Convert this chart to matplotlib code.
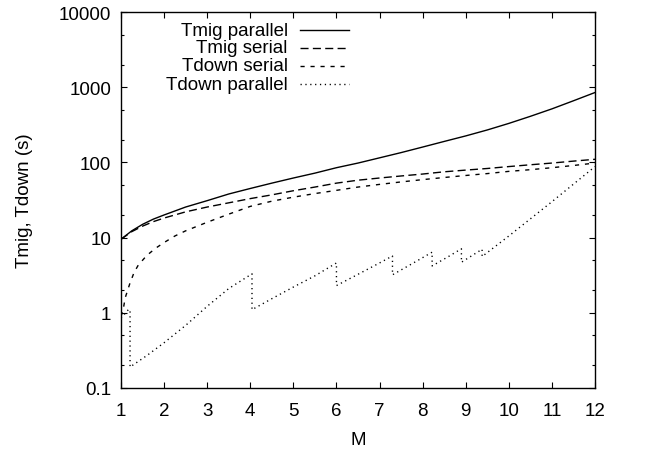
import matplotlib
matplotlib.use("Agg")
import matplotlib.pyplot as plt
from matplotlib.ticker import FixedLocator, FixedFormatter, LogLocator, NullFormatter
from matplotlib.lines import Line2D

plt.rcParams['font.family'] = ['Liberation Sans', 'DejaVu Sans']

# Migration time, parallel
tmig_par_m = [1, 1.25, 1.5, 1.75, 2, 2.5, 3, 3.5, 4, 4.5, 5, 5.5, 6, 6.5, 7, 7.5,
              8, 8.5, 9, 9.5, 10, 10.5, 11, 11.5, 12]
tmig_par = [9.5, 12.3, 15, 17.6, 20, 25.5, 31, 38, 45, 53, 62, 72, 85, 98, 115, 135,
            160, 190, 225, 270, 330, 410, 515, 660, 850]

# Migration time, serial
tmig_ser_m = [1, 1.25, 1.5, 1.75, 2, 2.5, 3, 3.5, 4, 4.5, 5, 5.5, 6, 6.5, 7, 7.5,
              8, 8.5, 9, 9.5, 10, 10.5, 11, 11.5, 12]
tmig_ser = [9.5, 12, 14.2, 16.3, 18.2, 22, 25.5, 29, 33, 37, 42, 47, 53, 58, 62, 66,
            70, 75, 79, 83, 88, 93, 98, 104, 110]

# Downtime, serial
tdown_ser_m = [1, 1.05, 1.1, 1.2, 1.3, 1.4, 1.6, 1.8, 2, 2.25, 2.5, 3, 3.5, 4, 4.5,
               5, 5.5, 6, 6.5, 7, 7.5, 8, 8.5, 9, 9.5, 10, 10.5, 11, 11.5, 12]
tdown_ser = [0.9, 1.1, 1.6, 2.4, 3.4, 4.3, 5.8, 7.2, 8.6, 10.5, 12.3, 16, 20.5, 26, 30.5,
             34.5, 38.5, 42.5, 47, 51, 55, 59, 63, 67, 71, 76, 80, 85, 91, 98]

# Downtime, parallel (repeated M values are the drops)
tdown_par_m = [1.0, 1.17, 1.21, 1.21, 1.6, 2.0, 2.5, 3.0, 3.5, 4.04, 4.04, 4.5, 5.0, 5.5,
               6.0, 6.0, 6.5, 7.0, 7.3, 7.3, 7.8, 8.22, 8.22, 8.6, 8.9, 8.9, 9.38, 9.38,
               10, 11, 12]
tdown_par = [0.85, 1.1, 1.1, 0.19, 0.27, 0.40, 0.68, 1.22, 2.1, 3.3, 1.1, 1.54, 2.2, 3.1,
             4.6, 2.3, 3.25, 4.6, 5.7, 3.2, 4.65, 6.4, 4.2, 5.6, 7.1, 4.7, 7.0, 5.6,
             10.5, 30, 88]

series_labels = ["Tmig parallel", "Tmig serial", "Tdown serial", "Tdown parallel"]
y_ticks = [0.1, 1, 10, 100, 1000, 10000]
y_tick_labels = ["0.1", "1", "10", "100", "1000", "10000"]
x_ticks = list(range(1, 13))

fig = plt.figure(figsize=(6.65, 4.6), dpi=100)
ax = fig.add_axes([121 / 665, 1 - 389 / 460, 474 / 665, 376 / 460])

lw = 1.0
styles = [
    dict(linestyle='-'),
    dict(linestyle=(0, (5.8, 3.1))),
    dict(linestyle=(0, (3.0, 4.2))),
    dict(linestyle=(0, (0.9, 2.6))),
]
data = [(tmig_par_m, tmig_par), (tmig_ser_m, tmig_ser),
        (tdown_ser_m, tdown_ser), (tdown_par_m, tdown_par)]

for (mx, my), st in zip(data, styles):
    ax.plot(mx, my, color='black', lw=lw, **st)

ax.set_yscale('log')
ax.set_xlim(1, 12)
ax.set_ylim(0.1, 10000)
ax.yaxis.set_major_locator(FixedLocator(y_ticks))
ax.yaxis.set_major_formatter(FixedFormatter(y_tick_labels))
ax.yaxis.set_minor_locator(LogLocator(base=10, subs=[2, 5]))
ax.yaxis.set_minor_formatter(NullFormatter())
ax.set_xticks(x_ticks)
ax.set_xticklabels([str(v) for v in x_ticks])

fs = 13.5
ax.tick_params(which='both', direction='in', top=True, right=True, labelsize=fs,
               width=0.8, color='black')
ax.tick_params(which='major', length=4.5)
ax.tick_params(axis='x', which='major', pad=10)
ax.tick_params(axis='y', which='major', pad=7)
ax.tick_params(which='minor', length=2.3)
for s in ax.spines.values():
    s.set_linewidth(1.0)

ax.set_xlabel("M", fontsize=fs, labelpad=9)
ax.set_ylabel("Tmig, Tdown (s)", fontsize=fs, labelpad=19)

# Key: right-aligned labels with line samples to their right
row_y = [0.952, 0.905, 0.857, 0.808]
for lab, st, yy in zip(series_labels, styles, row_y):
    ax.text(0.352, yy, lab, transform=ax.transAxes, ha='right', va='center', fontsize=fs)
    ax.add_line(Line2D([0.378, 0.481], [yy, yy], transform=ax.transAxes,
                       color='black', lw=lw, **st))

fig.savefig("out.png", dpi=100)
